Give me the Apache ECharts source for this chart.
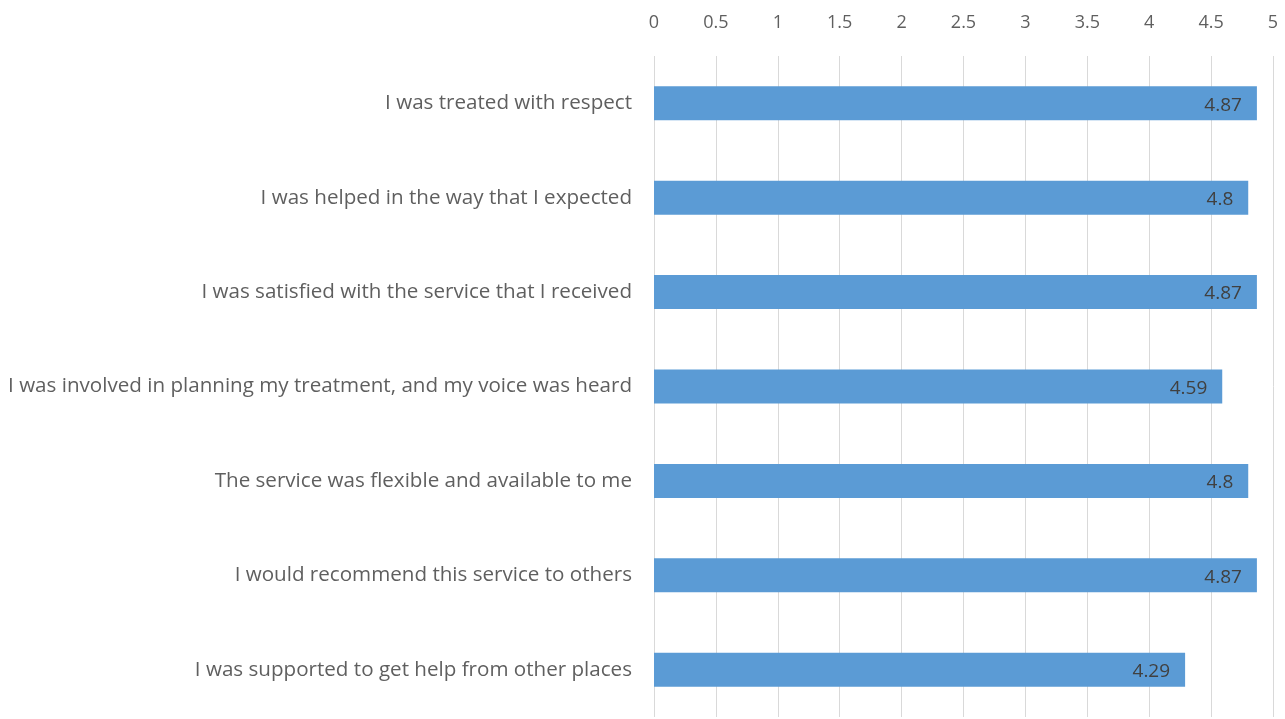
<!DOCTYPE html>
<html><head><meta charset="utf-8">
<script src="https://cdn.jsdelivr.net/npm/echarts@6/dist/echarts.min.js"></script>
<style>html,body{margin:0;padding:0;background:#fff}#c{width:1285px;height:719px}</style>
</head><body><div id="c"></div>
<script>
const categories = [
  "I was treated with respect",
  "I was helped in the way that I expected",
  "I was satisfied with the service that I received",
  "I was involved in planning my treatment, and my voice was heard",
  "The service was flexible and available to me",
  "I would recommend this service to others",
  "I was supported to get help from other places"
];
const values = [4.87, 4.8, 4.87, 4.59, 4.8, 4.87, 4.29];
const tickLabels = ["0","0.5","1","1.5","2","2.5","3","3.5","4","4.5","5"];

const chart = echarts.init(document.getElementById('c'), null, {renderer:'canvas'});
chart.setOption({
  animation:false,
  backgroundColor:'#fff',
  grid:{left:654,right:12,top:56,bottom:2,containLabel:false},
  xAxis:{type:'value',position:'top',min:0,max:5,interval:0.5,
    axisLine:{show:false},axisTick:{show:false},
    axisLabel:{color:'#5f5f5f',fontFamily:'Open Sans',fontSize:18,margin:24,
      formatter:(v)=>tickLabels[Math.round(v*2)]},
    splitLine:{show:true,lineStyle:{color:'#D9D9D9',width:1}}},
  yAxis:{type:'category',data:categories,inverse:true,
    axisLine:{show:false},axisTick:{show:false},
    axisLabel:{color:'#5f5f5f',fontFamily:'Open Sans',fontSize:20.6,margin:22}},
  series:[{type:'bar',data:values,barWidth:'36%',
    itemStyle:{color:'#5B9BD5'},
    label:{show:true,position:'insideRight',distance:15,color:'#404040',fontFamily:'Open Sans',fontSize:19,offset:[0,2]}}]
});
</script></body></html>
